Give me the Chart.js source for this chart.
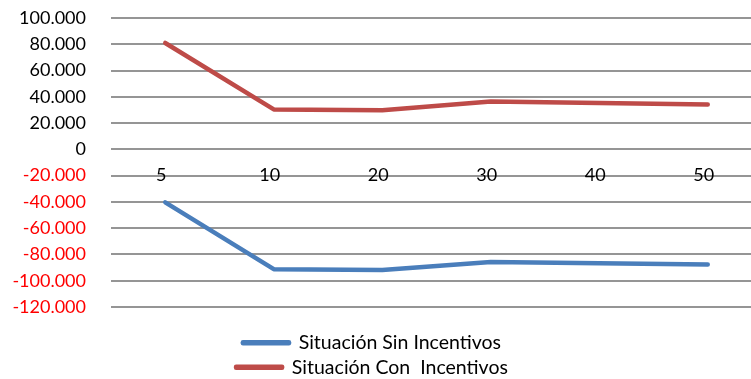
<!DOCTYPE html>
<html>
<head>
<meta charset="utf-8">
<script src="https://cdn.jsdelivr.net/npm/chart.js@4/dist/chart.umd.min.js"></script>
<style>
  html, body { margin: 0; padding: 0; background: #fff; overflow: hidden; }
  #wrap { position: absolute; left: -18px; top: 0; width: 780px; height: 387px; }
</style>
</head>
<body>
<div id="wrap"><canvas id="chart"></canvas></div>
<script>
const categories = ['5', '10', '20', '30', '40', '50'];
const sinIncentivos = [-40300, -91200, -91800, -85800, -86700, -87600];
const conIncentivos = [81000, 30400, 29700, 36400, 35200, 34200];
const yMin = -120000;
const yMax = 100000;
const yStep = 20000;

const FONT = 'Lato, "Open Sans", sans-serif';

function formatMiles(v) {
  // 100000 -> 100.000, -20000 -> -20.000
  const s = Math.abs(v).toString().replace(/\B(?=(\d{3})+(?!\d))/g, '.');
  return (v < 0 ? '-' : '') + s;
}

const ctx = document.getElementById('chart');
const chart = new Chart(ctx, {
  type: 'line',
  data: {
    labels: categories,
    datasets: [{
      label: 'Situación Sin Incentivos',
      data: sinIncentivos,
      borderColor: '#4a7ebb',
      backgroundColor: '#4a7ebb',
      borderWidth: 4.5,
      borderCapStyle: 'round',
      borderJoinStyle: 'round',
      pointRadius: 0,
      tension: 0
    }, {
      label: 'Situación Con  Incentivos',
      data: conIncentivos,
      borderColor: '#be4b48',
      backgroundColor: '#be4b48',
      borderWidth: 4.5,
      borderCapStyle: 'round',
      borderJoinStyle: 'round',
      pointRadius: 0,
      tension: 0
    }]
  },
  options: {
    responsive: true,
    maintainAspectRatio: false,
    animation: false,
    layout: { padding: { top: 18, right: 0, bottom: 0, left: 0 } },
    scales: {
      x: {
        type: 'category',
        position: { y: 0 },
        offset: true,
        grid: { display: false, drawTicks: false },
        border: { display: false },
        ticks: {
          padding: 15,
          labelOffset: -4,
          color: '#000',
          font: { family: FONT, size: 18 },
          maxRotation: 0,
          autoSkip: false
        }
      },
      y: {
        min: yMin,
        max: yMax,
        afterFit: (scale) => {
          scale.width = 129;
          // tick padding is only meant to push labels left, not down from the top
          scale.paddingTop = 0;
          scale.paddingBottom = 0;
        },
        grid: { color: '#959595', lineWidth: 2, drawTicks: false },
        border: { display: false },
        ticks: {
          stepSize: yStep,
          padding: 25,
          font: { family: FONT, size: 18 },
          color: (c) => (c.tick && c.tick.value < 0 ? '#ff0000' : '#000'),
          callback: (v) => formatMiles(v)
        }
      }
    },
    plugins: {
      tooltip: { enabled: false },
      legend: {
        position: 'bottom',
        stack: 'legend',
        title: { display: true, text: '', font: { size: 10 }, padding: { top: 0, bottom: 9 } },
        labels: {
          boxWidth: 46,
          boxHeight: 1,
          padding: 5,
          color: '#000',
          font: { family: FONT, size: 19.5 }
        }
      }
    }
  }
});
</script>
</body>
</html>
